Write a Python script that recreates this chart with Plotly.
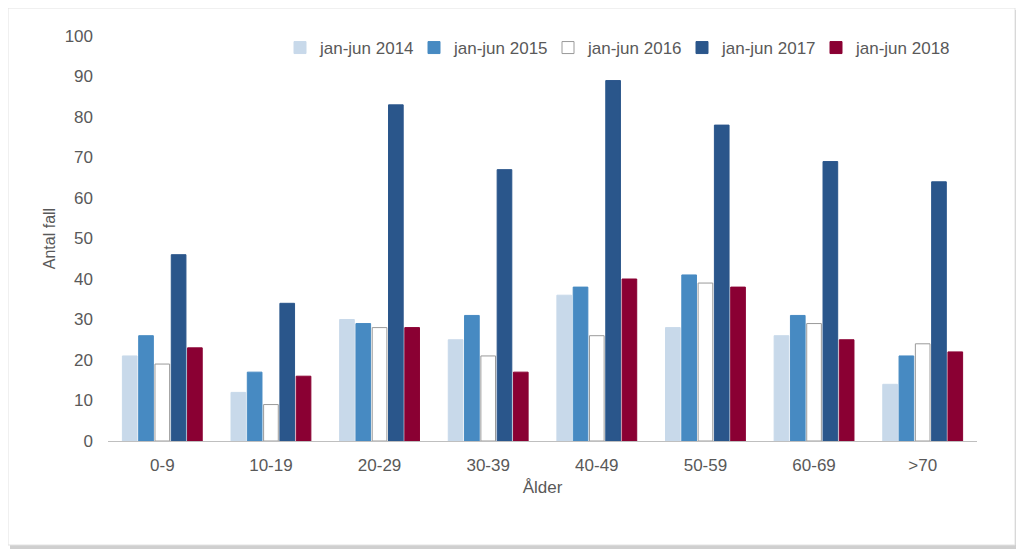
import plotly.graph_objects as go

categories = ["0-9", "10-19", "20-29", "30-39", "40-49", "50-59", "60-69", ">70"]
series_names = ["jan-jun 2014", "jan-jun 2015", "jan-jun 2016", "jan-jun 2017", "jan-jun 2018"]
v2014 = [21, 12, 30, 25, 36, 28, 26, 14]
v2015 = [26, 17, 29, 31, 38, 41, 31, 21]
v2016 = [19, 9, 28, 21, 26, 39, 29, 24]
v2017 = [46, 34, 83, 67, 89, 78, 69, 64]
v2018 = [23, 16, 28, 17, 40, 38, 25, 22]
y_ticks = [0, 10, 20, 30, 40, 50, 60, 70, 80, 90, 100]

values = [v2014, v2015, v2016, v2017, v2018]
colors = ["#C8D9EA", "#478AC2", "#FFFFFF", "#2A568B", "#8A0033"]
line_colors = ["#C8D9EA", "#478AC2", "#9A9A9A", "#2A568B", "#8A0033"]

fig = go.Figure()
for name, vals, c, lc in zip(series_names, values, colors, line_colors):
    fig.add_trace(go.Bar(
        x=categories, y=vals, name=name,
        marker=dict(color=c, line=dict(color=lc, width=1)),
    ))

# page has an 8px body margin; figure sized to fit the window
W, H = 1016, 543
L, R, T, B = 100, 47, 28, 110
pw, ph = W - L - R, H - T - B
def px(x):
    return (x - L) / pw
def py(y):
    return (H - B - y) / ph

shapes = [
    dict(type="rect", xref="paper", yref="paper",
         x0=px(3), x1=px(1010), y0=py(3), y1=py(540),
         line=dict(color="#CFCFCF", width=2), fillcolor="#CFCFCF", layer="below"),
    dict(type="rect", xref="paper", yref="paper",
         x0=px(0), x1=px(1007), y0=py(0), y1=py(537),
         line=dict(color="#E2E2E2", width=1), fillcolor="white", layer="below"),
]

fig.update_layout(
    width=W, height=H,
    margin=dict(l=L, r=R, t=T, b=B),
    paper_bgcolor="white", plot_bgcolor="rgba(0,0,0,0)",
    barmode="group", bargap=0.25, bargroupgap=0.1,
    font=dict(family="Liberation Sans, Arial, sans-serif", size=17, color="#595959"),
    showlegend=True,
    legend=dict(orientation="h", x=px(272), y=py(22), xanchor="left", yanchor="top",
                font=dict(size=17, color="#595959"), bgcolor="rgba(0,0,0,0)",
                entrywidth=89, entrywidthmode="pixels", itemwidth=30, tracegroupgap=0),
    xaxis=dict(title=dict(text="Ålder", standoff=6, font=dict(size=17)),
               showgrid=False, showline=True, linecolor="#BFBFBF", linewidth=1,
               ticks="", tickfont=dict(size=17), ticklabelstandoff=9),
    yaxis=dict(title=dict(text="Antal fall", standoff=5, font=dict(size=16)),
               range=[0, 100], tickvals=y_ticks, showgrid=False, zeroline=False,
               showline=False, ticks="", tickfont=dict(size=17), ticklabelstandoff=14),
    shapes=shapes,
)

fig.write_html("out.html")
